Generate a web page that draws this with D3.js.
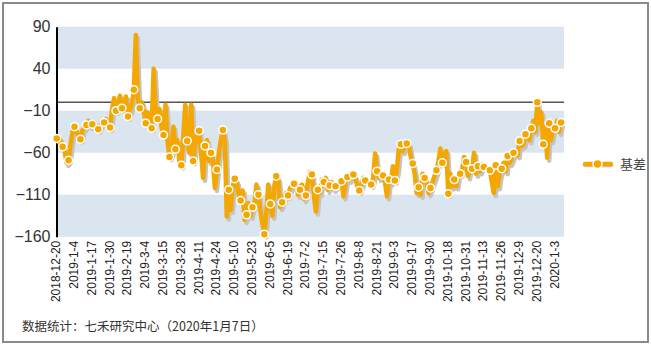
<!DOCTYPE html>
<html><head><meta charset="utf-8">
<script src="https://cdn.jsdelivr.net/npm/d3@7/dist/d3.min.js"></script>
<style>
html,body{margin:0;padding:0;background:#fff;}
svg{display:block;}
</style></head>
<body>
<svg id="chart" width="651" height="346"></svg>
<script>
// Daily basis values (trading days); a marker is drawn on every third day
const basis = [
-43,-47,-45, -53,-58,-72, -69,-50,-35, -29,-35,-40, -44,-33,-30, -27,-22,-28,
-26,-24,-30, -32,-28,-22, -24,-20,-28, -30,-8,5, -10,-2,8, -7,-3,7,
-17,-10,-2, 15,80,5, -7,0,-10, -25,-12,-20, -31,40,-10, -20,-8,-30,
-39,-3,-45, -65,-60,-29, -56,-45,-70, -75,-40,-3, -46,-60,-3, -70,-50,-40,
-34,-60,-90, -52,-45,-70, -60,-70,-102, -80,-60,-45, -33,-45,-136, -104,-128,-100,
-91,-95,-110, -117,-105,-140, -134,-120,-135, -125,-120,-98, -110,-130,-145, -157,-130,-98,
-121,-135,-100, -88,-92,-125, -119,-113,-108, -111,-102,-100, -97,-96,-110, -104,-98,-115,
-111,-95,-83, -86,-110,-130, -104,-108,-92, -95,-90,-104, -99,-95,-103, -100,-97,-97,
-94,-112,-95, -89,-92,-84, -86,-90,-100, -105,-98,-90, -93,-95,-96, -98,-90,-61,
-82,-90,-84, -87,-95,-112, -92,-95,-76, -93,-80,-55, -50,-58,-52, -49,-50,-65,
-73,-85,-108, -101,-110,-85, -90,-95,-108, -102,-95,-88, -81,-70,-55, -72,-65,-58,
-109,-85,-100, -92,-100,-85, -85,-80,-65, -71,-88,-75, -79,-60,-85, -76,-82,-74,
-77,-78,-80, -81,-95,-108, -75,-100,-85, -79,-72,-82, -64,-72,-68, -60,-58,-63,
-46,-52,-50, -38,-40,-45, -31,-22,-35, 0,-25,-12, -50,-30,-66, -25,-45,-30,
-31,-22,-35, -24
];
const markerStep = 3;
const tickLabels = ["2018-12-20","2019-1-4","2019-1-17","2019-1-30","2019-2-19","2019-3-4","2019-3-15",
"2019-3-28","2019-4-11","2019-4-24","2019-5-10","2019-5-23","2019-6-5","2019-6-19","2019-7-2",
"2019-7-15","2019-7-26","2019-8-8","2019-8-21","2019-9-3","2019-9-17","2019-9-30","2019-10-18",
"2019-10-31","2019-11-13","2019-11-26","2019-12-9","2019-12-20","2020-1-3"];
const tickEvery = 9;
const yTicks = [90,40,-10,-60,-110,-160];
const bands = [[40,90],[-60,-10],[-160,-110]];
const seriesName = "基差";
const footnote = "数据统计：七禾研究中心（2020年1月7日）";

const svg = d3.select("#chart");
const L = 56.5, R = 564, T = 26.7, B = 236.7;
const x = d3.scaleLinear().domain([0, 256.5]).range([56.7, R]);
const y = d3.scaleLinear().domain([-160, 90]).range([B, T]);
const orange = "#f4a700";

// frame
svg.append("rect").attr("x",3).attr("y",3).attr("width",645).attr("height",339)
  .attr("fill","#fff").attr("stroke","#8a8a8a").attr("stroke-width",2);

// bands
svg.append("g").selectAll("rect").data(bands).join("rect")
  .attr("x", L).attr("width", R - L)
  .attr("y", d => y(d[1])).attr("height", d => y(d[0]) - y(d[1]))
  .attr("fill", "#dbe5f0");

// zero line
svg.append("line").attr("x1", L).attr("x2", R).attr("y1", y(0)).attr("y2", y(0))
  .attr("stroke", "#555").attr("stroke-width", 1.5);

// y axis
const yAxis = svg.append("g").attr("transform", `translate(${L},0)`)
  .call(d3.axisLeft(y).tickValues(yTicks).tickSize(0).tickPadding(6));
yAxis.select(".domain").attr("stroke","#000").attr("stroke-width",2);
yAxis.selectAll("text").attr("font-family","Liberation Sans, Arial, sans-serif")
  .attr("font-size", 16).attr("fill","#333");

// x axis labels
const xTickVals = tickLabels.map((_, j) => j * tickEvery);
const xAxis = svg.append("g").attr("transform", `translate(0,${B})`)
  .call(d3.axisBottom(x).tickValues(xTickVals).tickFormat((d, j) => tickLabels[j]).tickSize(0));
xAxis.select(".domain").remove();
xAxis.selectAll("text")
  .attr("font-family","Liberation Sans, Arial, sans-serif").attr("font-size", 12).attr("fill","#222")
  .attr("text-anchor","end").attr("transform","rotate(-90)")
  .attr("x", -4).attr("y", 0).attr("dy","0.25em");

// line + shadow
const pts = basis.map((v, i) => [i, v]);
const line = d3.line().x(d => x(d[0])).y(d => y(d[1]));
svg.append("path").datum(pts).attr("d", line).attr("fill","none")
  .attr("stroke","#c4c4c4").attr("stroke-width",4.5).attr("stroke-linejoin","round")
  .attr("transform","translate(2,3)");
svg.append("path").datum(pts).attr("d", line).attr("fill","none")
  .attr("stroke",orange).attr("stroke-width",4.5).attr("stroke-linejoin","round");

// markers
const marks = pts.filter(d => d[0] % markerStep === 0);
svg.append("g").selectAll("circle").data(marks).join("circle")
  .attr("cx", d => x(d[0])).attr("cy", d => y(d[1])).attr("r", 4)
  .attr("fill", orange).attr("stroke","#fff").attr("stroke-width",1.5);

// legend
const lg = svg.append("g").attr("transform","translate(583,164)");
lg.append("line").attr("x1",2).attr("x2",28).attr("y1",1).attr("y2",1)
  .attr("stroke","#c4c4c4").attr("stroke-width",4.5).attr("stroke-linecap","round");
lg.append("line").attr("x1",2).attr("x2",28).attr("y1",0).attr("y2",0)
  .attr("stroke",orange).attr("stroke-width",4.5).attr("stroke-linecap","round");
lg.append("circle").attr("cx",14.5).attr("cy",0).attr("r",4.5)
  .attr("fill",orange).attr("stroke","#fff").attr("stroke-width",1.5);
lg.append("text").attr("x",37).attr("y",0).attr("dy","0.35em").text(seriesName)
  .attr("font-family","Noto Sans CJK SC, sans-serif").attr("font-size",13).attr("fill","#444");

// footnote
svg.append("text").attr("x",22).attr("y",327).attr("dy","0.35em").text(footnote)
  .attr("font-family","Noto Sans CJK SC, sans-serif").attr("font-size",12.5).attr("fill","#333");
</script>
</body></html>
